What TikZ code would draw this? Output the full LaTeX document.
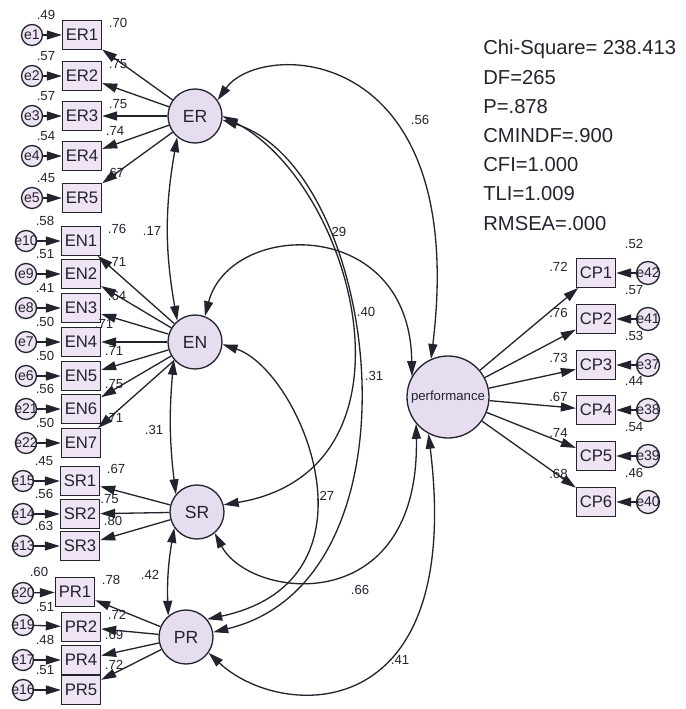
\documentclass[tikz,border=0pt]{standalone}
\usepackage{fontspec}
\setmainfont{Liberation Sans}
\usetikzlibrary{arrows.meta}
\definecolor{ink}{RGB}{35,35,45}
\definecolor{latfill}{RGB}{230,221,241}
\definecolor{boxfill}{RGB}{238,228,244}

\begin{document}
\begin{tikzpicture}[
  >={Triangle[length=0.30cm,width=0.18cm]},
  latent/.style={circle, draw=ink, line width=0.75pt, fill=latfill, minimum size=1.08cm, inner sep=0pt, text=ink, font=\fontsize{10}{12}\selectfont},
  ind/.style={draw=ink, line width=0.75pt, fill=boxfill, minimum width=0.78cm, minimum height=0.57cm, inner sep=0pt, text=ink, font=\fontsize{9.5}{11}\selectfont},
  err/.style={circle, draw=ink, line width=0.75pt, fill=boxfill, minimum size=0.42cm, inner sep=0pt, label={[text=ink, font=\fontsize{8}{9}\selectfont]center:#1}},
  num/.style={text=ink, font=\fontsize{7.5}{9}\selectfont, inner sep=0.5pt},
  arrow/.style={->, line width=0.75pt, draw=ink},
  cov/.style={<->, line width=0.75pt, draw=ink},
  r2/.style={label={[num, xshift=-0.11cm, yshift=-0.02cm]north west:#1}},
  ld/.style={label={[num, xshift=0.11cm, yshift=-0.17cm]north east:#1}},
  ldd/.style={label={[num, xshift=0.05cm, yshift=0.08cm]north east:#1}},
  cpr/.style={label={[num, xshift=0.15cm, yshift=0.16cm]north east:#1}},
  cpl/.style 2 args={label={[num, xshift=-0.14cm, yshift=#2]west:#1}},
]
\useasboundingbox (0,0) rectangle (13.72,-14.18);

% Latent variables
\node[latent] (ER) at (3.90,-2.32) {ER};
\node[latent] (EN) at (3.90,-6.84) {EN};
\node[latent] (SR) at (3.94,-10.24) {SR};
\node[latent] (PR) at (3.72,-12.74) {PR};
\node[latent, minimum size=1.64cm, font=\fontsize{7.5}{9}\selectfont] (perf) at (8.96,-7.94) {performance};

% ER items
\node[ind, r2=.49, ld=.70] (ER1) at (1.64,-0.70) {ER1};
\node[ind, r2=.57, ld=.75] (ER2) at (1.64,-1.52) {ER2};
\node[ind, r2=.57, ld=.75] (ER3) at (1.64,-2.32) {ER3};
\node[ind, r2=.54, ldd=.74] (ER4) at (1.64,-3.12) {ER4};
\node[ind, r2=.45, ldd=.67] (ER5) at (1.64,-3.96) {ER5};
\node[err=e1] (e1) at (0.64,-0.70) {};
\node[err=e2] (e2) at (0.64,-1.52) {};
\node[err=e3] (e3) at (0.64,-2.32) {};
\node[err=e4] (e4) at (0.64,-3.12) {};
\node[err=e5] (e5) at (0.64,-3.96) {};

% EN items
\node[ind, r2=.58, ld=.76] (EN1) at (1.62,-4.82) {EN1};
\node[ind, r2=.51, ld=.71] (EN2) at (1.62,-5.48) {EN2};
\node[ind, r2=.41, ld=.64] (EN3) at (1.62,-6.16) {EN3};
\node[ind, r2=.50, label={[num, xshift=-0.15cm, yshift=-0.06cm]north east:.71}] (EN4) at (1.62,-6.84) {EN4};
\node[ind, r2=.50, ldd=.71] (EN5) at (1.62,-7.52) {EN5};
\node[ind, r2=.56, ldd=.75] (EN6) at (1.62,-8.18) {EN6};
\node[ind, r2=.50, ldd=.71] (EN7) at (1.62,-8.86) {EN7};
\node[err=e10] (e10) at (0.52,-4.82) {};
\node[err=e9] (e9) at (0.52,-5.48) {};
\node[err=e8] (e8) at (0.52,-6.16) {};
\node[err=e7] (e7) at (0.52,-6.84) {};
\node[err=e6] (e6) at (0.52,-7.52) {};
\node[err=e21] (e21) at (0.52,-8.18) {};
\node[err=e22] (e22) at (0.52,-8.86) {};

% SR items
\node[ind, r2=.45, ld=.67] (SR1) at (1.60,-9.62) {SR1};
\node[ind, r2=.56, label={[num, xshift=-0.02cm, yshift=-0.12cm]north east:.75}] (SR2) at (1.60,-10.28) {SR2};
\node[ind, r2=.63, ldd=.80] (SR3) at (1.60,-10.92) {SR3};
\node[err=e15] (e15) at (0.46,-9.62) {};
\node[err=e14] (e14) at (0.46,-10.28) {};
\node[err=e13] (e13) at (0.46,-10.92) {};

% PR items
\node[ind, r2=.60, ld=.78] (PR1) at (1.50,-11.84) {PR1};
\node[ind, r2=.51, ld=.72] (PR2) at (1.62,-12.54) {PR2};
\node[ind, r2=.48, ldd=.69] (PR4) at (1.62,-13.20) {PR4};
\node[ind, r2=.51, ldd=.72] (PR5) at (1.62,-13.80) {PR5};
\node[err=e20] (e20) at (0.46,-11.86) {};
\node[err=e19] (e19) at (0.46,-12.50) {};
\node[err=e17] (e17) at (0.46,-13.20) {};
\node[err=e16] (e16) at (0.46,-13.80) {};

% performance items
\node[ind, cpr=.52, cpl={.72}{0.12cm}] (CP1) at (11.92,-5.46) {CP1};
\node[ind, cpr=.57, cpl={.76}{0.12cm}] (CP2) at (11.92,-6.38) {CP2};
\node[ind, cpr=.53, cpl={.73}{0.14cm}] (CP3) at (11.92,-7.30) {CP3};
\node[ind, cpr=.44, cpl={.67}{0.26cm}] (CP4) at (11.92,-8.20) {CP4};
\node[ind, cpr=.54, cpl={.74}{0.46cm}] (CP5) at (11.92,-9.12) {CP5};
\node[ind, cpr=.46, cpl={.68}{0.56cm}] (CP6) at (11.92,-10.04) {CP6};
\node[err=e42, minimum size=0.46cm] (e42) at (12.96,-5.46) {};
\node[err=e41, minimum size=0.46cm] (e41) at (12.96,-6.38) {};
\node[err=e37, minimum size=0.46cm] (e37) at (12.96,-7.30) {};
\node[err=e38, minimum size=0.46cm] (e38) at (12.96,-8.20) {};
\node[err=e39, minimum size=0.46cm] (e39) at (12.96,-9.12) {};
\node[err=e40, minimum size=0.46cm] (e40) at (12.96,-10.04) {};

% Loadings
\draw[arrow] (ER) -- (ER1); \draw[arrow] (ER) -- (ER2); \draw[arrow] (ER) -- (ER3);
\draw[arrow] (ER) -- (ER4); \draw[arrow] (ER) -- (ER5);
\draw[arrow] (EN) -- (EN1); \draw[arrow] (EN) -- (EN2); \draw[arrow] (EN) -- (EN3);
\draw[arrow] (EN) -- (EN4); \draw[arrow] (EN) -- (EN5); \draw[arrow] (EN) -- (EN6);
\draw[arrow] (EN) -- (EN7);
\draw[arrow] (SR) -- (SR1); \draw[arrow] (SR) -- (SR2); \draw[arrow] (SR) -- (SR3);
\draw[arrow] (PR) -- (PR1); \draw[arrow] (PR) -- (PR2); \draw[arrow] (PR) -- (PR4);
\draw[arrow] (PR) -- (PR5);
\draw[arrow] (perf) -- (CP1); \draw[arrow] (perf) -- (CP2); \draw[arrow] (perf) -- (CP3);
\draw[arrow] (perf) -- (CP4); \draw[arrow] (perf) -- (CP5); \draw[arrow] (perf) -- (CP6);

% Error terms
\draw[arrow] (e1) -- (ER1); \draw[arrow] (e2) -- (ER2); \draw[arrow] (e3) -- (ER3);
\draw[arrow] (e4) -- (ER4); \draw[arrow] (e5) -- (ER5);
\draw[arrow] (e10) -- (EN1); \draw[arrow] (e9) -- (EN2); \draw[arrow] (e8) -- (EN3);
\draw[arrow] (e7) -- (EN4); \draw[arrow] (e6) -- (EN5); \draw[arrow] (e21) -- (EN6);
\draw[arrow] (e22) -- (EN7);
\draw[arrow] (e15) -- (SR1); \draw[arrow] (e14) -- (SR2); \draw[arrow] (e13) -- (SR3);
\draw[arrow] (e20) -- (PR1); \draw[arrow] (e19) -- (PR2); \draw[arrow] (e17) -- (PR4);
\draw[arrow] (e16) -- (PR5);
\draw[arrow] (e42) -- (CP1); \draw[arrow] (e41) -- (CP2); \draw[arrow] (e37) -- (CP3);
\draw[arrow] (e38) -- (CP4); \draw[arrow] (e39) -- (CP5); \draw[arrow] (e40) -- (CP6);

% Covariances
\draw[cov] (ER.230) to[bend right=10] (EN.130);
\draw[cov] (EN.220) to[bend right=6] (SR.140);
\draw[cov] (SR.215) to[bend right=6] (PR.130);
\draw[cov] (ER.35) .. controls (5.2,-0.8) and (9.4,-0.8) .. (perf.114);
\draw[cov] (ER.east) .. controls (7.1,-3.7) and (8.6,-9.4) .. (SR.15);
\draw[cov] (ER.-8) .. controls (7.6,-3.4) and (8.6,-11.6) .. (PR.10);
\draw[cov] (EN.69) .. controls (4.6,-4.4) and (8.2,-4.3) .. (perf.150);
\draw[cov] (EN.-5) .. controls (6.0,-7.4) and (7.8,-11.6) .. (PR.40);
\draw[cov] (SR.-50) .. controls (5.0,-12.0) and (8.4,-12.4) .. (perf.220);
\draw[cov] (PR.-35) .. controls (5.6,-14.4) and (9.3,-14.6) .. (perf.242);

\node[num] (c56) at (8.40,-2.40) {.56};
\node[num] (c29) at (6.74,-4.64) {.29};
\node[num] (c40) at (7.32,-6.24) {.40};
\node[num] (c31r) at (7.48,-7.52) {.31};
\node[num] (c17) at (3.04,-4.62) {.17};
\node[num] (c31l) at (3.08,-8.60) {.31};
\node[num] (c42) at (3.00,-11.50) {.42};
\node[num] (c27) at (6.50,-9.92) {.27};
\node[num] (c66) at (7.20,-11.80) {.66};
\node[num] (c41) at (8.00,-13.20) {.41};

% Model fit
\node[anchor=north west, inner sep=0pt, align=left, text=ink, font=\fontsize{11.5}{16.6}\selectfont] (fit) at (9.66,-0.80)
  {Chi-Square= 238.413\\DF=265\\P=.878\\CMINDF=.900\\CFI=1.000\\TLI=1.009\\RMSEA=.000};

\end{tikzpicture}
\end{document}
